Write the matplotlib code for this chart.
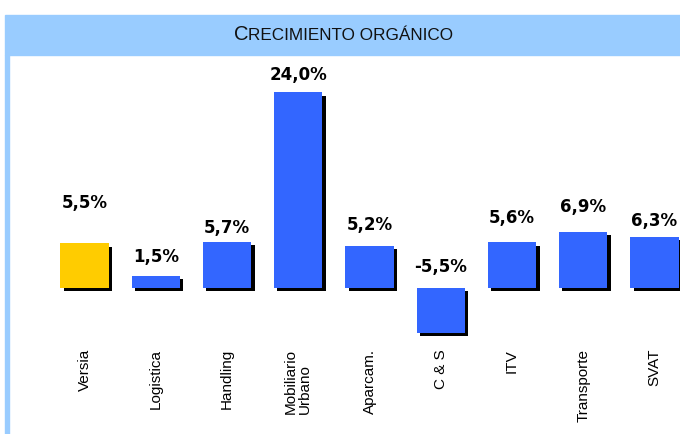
import matplotlib
matplotlib.use("Agg")
import matplotlib.pyplot as plt
import matplotlib.patches as mpatches
import matplotlib.patheffects as pe

categories = ["Versia", "Logistica", "Handling", "Mobiliario\nUrbano", "Aparcam.",
              "C & S", "ITV", "Transporte", "SVAT"]
growth = [5.5, 1.5, 5.7, 24.0, 5.2, -5.5, 5.6, 6.9, 6.3]
value_labels = ["5,5%", "1,5%", "5,7%", "24,0%", "5,2%", "-5,5%", "5,6%", "6,9%", "6,3%"]
# label heights (data units)
label_pos = [10.4, 3.8, 7.4, 26.1, 7.7, 2.6, 8.6, 9.9, 8.2]

W, H = 680, 434
fig = plt.figure(figsize=(W / 100, H / 100), dpi=100)

def fx(px):
    return px / W

def fy(py):
    return 1 - py / H

# title band and left border
band_col = "#99CCFF"
fig.patches.append(mpatches.Rectangle((fx(5), fy(55)), fx(675), 40 / H,
                                      transform=fig.transFigure, color=band_col, zorder=0))
fig.patches.append(mpatches.Rectangle((fx(5), 0), fx(4), fy(55),
                                      transform=fig.transFigure, color=band_col, zorder=0))

# small caps title: big C then smaller capitals
t1 = fig.text(fx(234), fy(40), "C", fontsize=14.5, family="Liberation Sans",
              ha="left", va="baseline", color="#111111")
fig.canvas.draw()
bb = t1.get_window_extent()
fig.text(bb.x1 / W, fy(40), "RECIMIENTO ORGÁNICO", fontsize=12.3,
         family="Liberation Sans", ha="left", va="baseline", color="#111111")

# main axes: zero line at y=288px, 8.15 px per unit
scale = 8.15
spacing = 71.25
top_px, bot_px = 60, 434
left_px = 84.5 - spacing / 2
ax = fig.add_axes([fx(left_px), 0, 1 - fx(left_px), (bot_px - top_px) / H])
ax.set_xlim(-0.5, (680 - left_px) / spacing - 0.5)
ax.set_ylim(-(bot_px - 288) / scale, (288 - top_px) / scale)
ax.axis("off")

colors = ["#FFCC00"] + ["#3366FF"] * (len(growth) - 1)
x = list(range(len(growth)))
bars = ax.bar(x, growth, width=0.68, color=colors, linewidth=0)
for b in bars:
    b.set_path_effects([pe.SimplePatchShadow(offset=(2.4, -2.4), shadow_rgbFace="black", alpha=1),
                        pe.Normal()])

for i, (lab, ly) in enumerate(zip(value_labels, label_pos)):
    ax.text(i, ly, lab, ha="center", va="center", fontsize=12, fontweight="bold",
            family="DejaVu Sans", color="black")

for i, name in enumerate(categories):
    ax.text(i, -(349 - 288) / scale, name, rotation=90, ha="center", va="top",
            multialignment="left", fontsize=11, family="Liberation Sans", linespacing=1.0)

fig.savefig("out.png", dpi=100)
